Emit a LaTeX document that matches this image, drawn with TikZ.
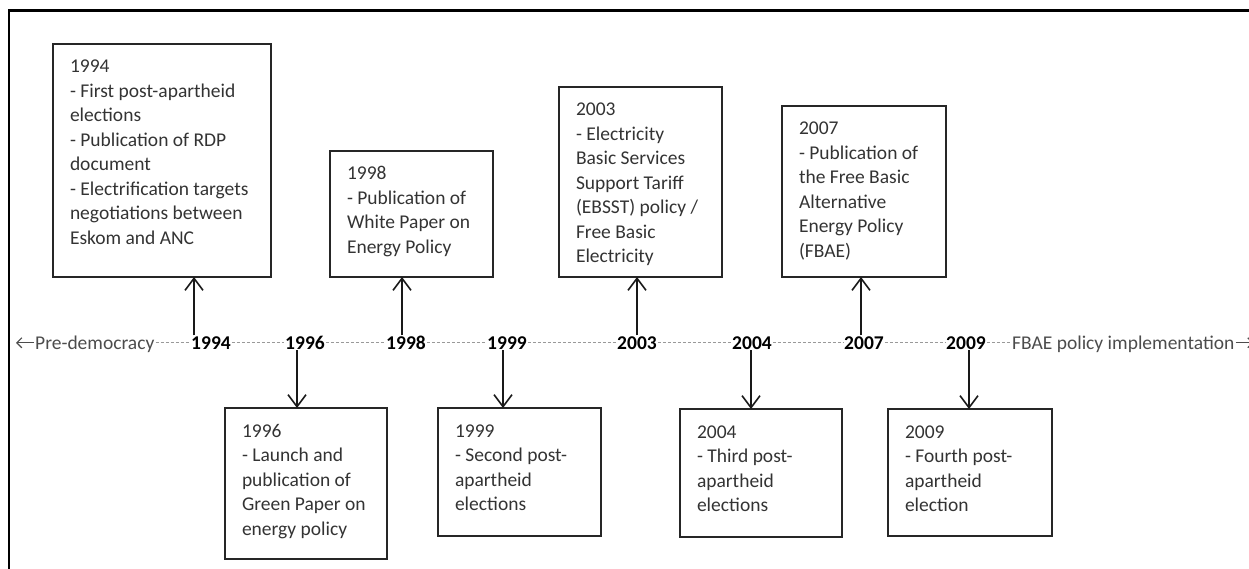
\documentclass[tikz,border=0pt]{standalone}
\usepackage{fontspec}
\setmainfont{Carlito}
\usetikzlibrary{arrows.meta}

% top aligned text of an event box: width, height, lines
\newcommand{\evtext}[3]{\parbox[t][#2][t]{#1}{\rule{0pt}{29pt}#3}}

\begin{document}
\begin{tikzpicture}[x=1pt, y=-1pt]

\tikzset{eventbox/.style={draw=black!85, line width=2pt, anchor=north west, inner xsep=17pt, inner ysep=0pt, outer sep=0pt, text=black!80, font=\fontsize{19.5}{24.5}\selectfont}}
\tikzset{yearlabel/.style={anchor=base, inner sep=1pt, text height=12.5pt, text depth=0pt, font=\fontsize{19.5}{24.5}\selectfont\bfseries}}
\tikzset{endlabel/.style={anchor=base west, inner sep=1pt, text height=12.5pt, text depth=0pt, text=black!70, font=\fontsize{19.5}{24.5}\selectfont}}
\tikzset{timeline/.style={draw=black!40, line width=1pt, dash pattern=on 3pt off 2pt}}
\tikzset{evarrow/.style={draw=black!90, line width=1.6pt, -{Straight Barb[length=12pt,width=18pt]}}}
\tikzset{endarrow/.style={draw=black!70, line width=1.2pt, -{Straight Barb[length=5pt,width=10pt]}}}

\useasboundingbox (0,0) rectangle (1249,569);

% frame
\draw[line width=2.5pt] (1249,10.5) -- (9,10.5) -- (9,569);

% time line labels
\node[endlabel] at (34,349) (pre) {Pre-democracy};
\node[yearlabel] at (211,349) (y1994) {1994};
\node[yearlabel] at (305,349) (y1996) {1996};
\node[yearlabel] at (406,349) (y1998) {1998};
\node[yearlabel] at (507,349) (y1999) {1999};
\node[yearlabel] at (637,349) (y2003) {2003};
\node[yearlabel] at (752,349) (y2004) {2004};
\node[yearlabel] at (864,349) (y2007) {2007};
\node[yearlabel] at (966,349) (y2009) {2009};
\node[endlabel] at (1011,349) (fbae) {FBAE policy implementation};

\coordinate (leftend) at ([xshift=-18pt]pre.west);
\coordinate (rightend) at ([xshift=18pt]fbae.east);

% time line
\draw[timeline] (pre) -- (y1994) -- (y1996) -- (y1998) -- (y1999) -- (y2003) -- (y2004) -- (y2007) -- (y2009) -- (fbae);
\draw[endarrow] (pre.west) -- (leftend);
\draw[endarrow] (fbae.east) -- (rightend);

% events above the time line
\node[eventbox] at (53,44) (e1994) {\evtext{184pt}{233pt}{1994\\- First post-apartheid\\elections\\- Publication of RDP\\document\\- Electrification targets\\negotiations between\\Eskom and ANC}};
\node[eventbox] at (330,151) (e1998) {\evtext{129pt}{126pt}{1998\\- Publication of\\White Paper on\\Energy Policy}};
\node[eventbox] at (559,87) (e2003) {\evtext{129pt}{190pt}{2003\\- Electricity\\Basic Services\\Support Tariff\\(EBSST) policy /\\Free Basic\\Electricity}};
\node[eventbox] at (782,106) (e2007) {\evtext{130pt}{171pt}{2007\\- Publication of\\the Free Basic\\Alternative\\Energy Policy\\(FBAE)}};

% events below the time line
\node[eventbox] at (225,408) (e1996) {\evtext{128pt}{151pt}{1996\\- Launch and\\publication of\\Green Paper on\\energy policy}};
\node[eventbox] at (438,408) (e1999) {\evtext{129pt}{128pt}{1999\\- Second post-\\apartheid\\elections}};
\node[eventbox] at (680,409) (e2004) {\evtext{128pt}{128pt}{2004\\- Third post-\\apartheid\\elections}};
\node[eventbox] at (888,409) (e2009) {\evtext{130pt}{127pt}{2009\\- Fourth post-\\apartheid\\election}};

% arrows from the time line
\coordinate (a1994) at ([xshift=-17pt]y1994.north);
\coordinate (a1998) at ([xshift=-4pt]y1998.north);
\coordinate (a2003) at (y2003.north);
\coordinate (a2007) at ([xshift=-3pt]y2007.north);
\coordinate (a1996) at ([xshift=-8pt]y1996.south);
\coordinate (a1999) at ([xshift=-4pt]y1999.south);
\coordinate (a2004) at ([xshift=-1pt]y2004.south);
\coordinate (a2009) at ([xshift=3pt]y2009.south);

\draw[evarrow] (a1994) -- (a1994 |- e1994.south);
\draw[evarrow] (a1998) -- (a1998 |- e1998.south);
\draw[evarrow] (a2003) -- (a2003 |- e2003.south);
\draw[evarrow] (a2007) -- (a2007 |- e2007.south);
\draw[evarrow] (a1996) -- (a1996 |- e1996.north);
\draw[evarrow] (a1999) -- (a1999 |- e1999.north);
\draw[evarrow] (a2004) -- (a2004 |- e2004.north);
\draw[evarrow] (a2009) -- (a2009 |- e2009.north);

\end{tikzpicture}
\end{document}
